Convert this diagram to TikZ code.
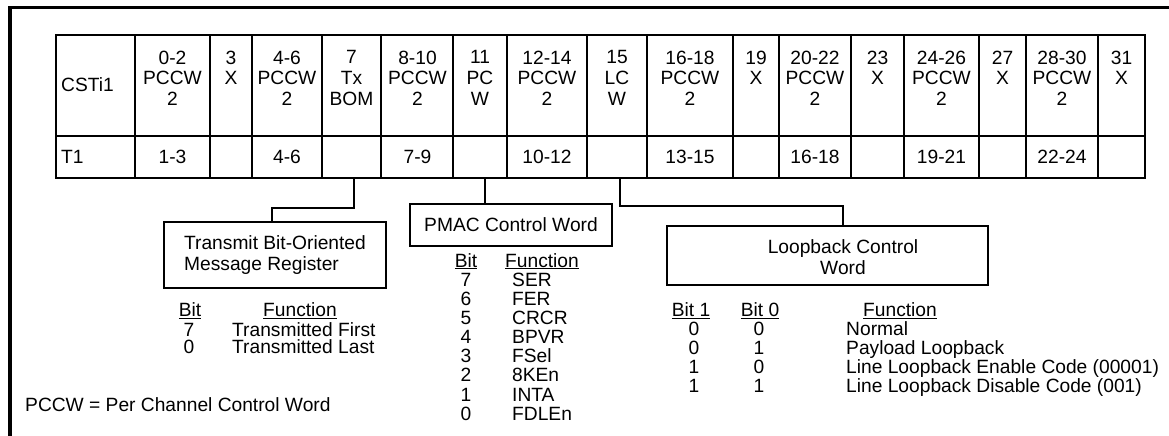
\documentclass[tikz,border=0pt]{standalone}
\usepackage{fontspec}
\setmainfont{Liberation Sans}
\begin{document}
\begin{tikzpicture}[x=1pt,y=-1pt,
  every node/.style={font=\fontsize{19.2}{20.6}\selectfont, inner sep=0pt},
  frame/.style={line width=3.3pt},
  grid/.style={line width=2pt},
  wire/.style={line width=2pt},
  regbox/.style={draw, line width=2.5pt, inner sep=0pt},
  hdr/.style={anchor=north, align=center},
  entry/.style={anchor=base},
  fn/.style={anchor=base west}]
\useasboundingbox (0,0) rectangle (1169,436);
% outer frame
\draw[frame] (10,436) -- (10,7.5) -- (1169,7.5);
% register table
\draw[grid] (56,35) rectangle (1145,178);
\draw[grid] (56,136) -- (1145,136);
\foreach \x in {135,210,252,322,381,453,507,587,647,733,779,851,904,979,1026,1098}
  \draw[grid] (\x,35) -- (\x,178);
\node[anchor=west] (hd0) at (61,85) {CSTi1};
\node[hdr] (hd1) at (172.5,50.5) {0-2\\PCCW\\2};
\node[hdr] (hd2) at (231,50.5) {3\\X};
\node[hdr] (hd3) at (287,50.5) {4-6\\PCCW\\2};
\node[hdr] (hd4) at (351.5,50.5) {7\\Tx\\BOM};
\node[hdr] (hd5) at (417.5,50.5) {8-10\\PCCW\\2};
\node[hdr] (hd6) at (480,50.5) {11\\PC\\W};
\node[hdr] (hd7) at (547,50.5) {12-14\\PCCW\\2};
\node[hdr] (hd8) at (617,50.5) {15\\LC\\W};
\node[hdr] (hd9) at (690,50.5) {16-18\\PCCW\\2};
\node[hdr] (hd10) at (756,50.5) {19\\X};
\node[hdr] (hd11) at (815,50.5) {20-22\\PCCW\\2};
\node[hdr] (hd12) at (877.5,50.5) {23\\X};
\node[hdr] (hd13) at (941.5,50.5) {24-26\\PCCW\\2};
\node[hdr] (hd14) at (1002.5,50.5) {27\\X};
\node[hdr] (hd15) at (1062,50.5) {28-30\\PCCW\\2};
\node[hdr] (hd16) at (1121.5,50.5) {31\\X};
\node[anchor=west] (rw0) at (61,157) {T1};
\node (rw1) at (172.5,156.5) {1-3};
\node (rw3) at (287,156.5) {4-6};
\node (rw5) at (417.5,156.5) {7-9};
\node (rw7) at (547,156.5) {10-12};
\node (rw9) at (690,156.5) {13-15};
\node (rw11) at (815,156.5) {16-18};
\node (rw13) at (941.5,156.5) {19-21};
\node (rw15) at (1062,156.5) {22-24};
% register boxes
\node[regbox, minimum width=222pt, minimum height=66pt, align=left] (tbomBox) at (275,255) {Transmit Bit-Oriented\\Message Register};
\node[regbox, minimum width=202pt, minimum height=42pt] (pmacBox) at (511,225) {PMAC Control Word};
\node[regbox, minimum width=321pt, minimum height=59pt] (lcwBox) at (827.5,255.5) {};
\node[align=center] (lcwLabel) at (843,257) {Loopback Control\\Word};
% connectors
\coordinate (bomFoot) at (354,178);
\coordinate (bomDrop) at (272,208);
\coordinate (pcwFoot) at (485,178);
\coordinate (lcwFoot) at (620,178);
\draw[wire] (bomFoot) |- (bomDrop) -- (bomDrop |- tbomBox.north);
\draw[wire] (pcwFoot) -- (pcwFoot |- pmacBox.north);
\draw[wire] (lcwFoot) -- ++(0,28) -| (lcwLabel |- lcwBox.north);
% Tx BOM bits
\node[entry] (tbBitHd) at (190,316.5) {\underline{Bit}};
\node[entry] (tbFnHd) at (300,316.5) {\underline{Function}};
\node[entry] (tbBit7) at (189,336.5) {7};
\node[fn] (tbFn7) at (232,336.5) {Transmitted First};
\node[entry] (tbBit0) at (189,353.5) {0};
\node[fn] (tbFn0) at (232,353.5) {Transmitted Last};
% PMAC bits
\node[entry] (pmBitHd) at (466,267) {\underline{Bit}};
\node[entry] (pmFnHd) at (542,267) {\underline{Function}};
\node[entry] (pmBit7) at (466,286.7) {7};
\node[fn] (pmFn7) at (512,286.7) {SER};
\node[entry] (pmBit6) at (466,305.7) {6};
\node[fn] (pmFn6) at (512,305.7) {FER};
\node[entry] (pmBit5) at (466,324.8) {5};
\node[fn] (pmFn5) at (512,324.8) {CRCR};
\node[entry] (pmBit4) at (466,343.8) {4};
\node[fn] (pmFn4) at (512,343.8) {BPVR};
\node[entry] (pmBit3) at (466,362.9) {3};
\node[fn] (pmFn3) at (512,362.9) {FSel};
\node[entry] (pmBit2) at (466,381.9) {2};
\node[fn] (pmFn2) at (512,381.9) {8KEn};
\node[entry] (pmBit1) at (466,401) {1};
\node[fn] (pmFn1) at (512,401) {INTA};
\node[entry] (pmBit0) at (466,420) {0};
\node[fn] (pmFn0) at (512,420) {FDLEn};
% loopback bits
\node[entry] (lbBit1Hd) at (691,316.5) {\underline{Bit 1}};
\node[entry] (lbBit0Hd) at (760,316.5) {\underline{Bit 0}};
\node[entry] (lbFnHd) at (900,316.5) {\underline{Function}};
\node[entry] (lbA1) at (694,335) {0};
\node[entry] (lbA0) at (759,335) {0};
\node[fn] (lbFnA) at (846,335) {Normal};
\node[entry] (lbB1) at (694,354) {0};
\node[entry] (lbB0) at (759,354) {1};
\node[fn] (lbFnB) at (846,354) {Payload Loopback};
\node[entry] (lbC1) at (694,373) {1};
\node[entry] (lbC0) at (759,373) {0};
\node[fn] (lbFnC) at (846,373) {Line Loopback Enable Code (00001)};
\node[entry] (lbD1) at (694,392) {1};
\node[entry] (lbD0) at (759,392) {1};
\node[fn] (lbFnD) at (846,392) {Line Loopback Disable Code (001)};
% footnote
\node[fn] (pccwNote) at (25,411.7) {PCCW = Per Channel Control Word};
\end{tikzpicture}
\end{document}
